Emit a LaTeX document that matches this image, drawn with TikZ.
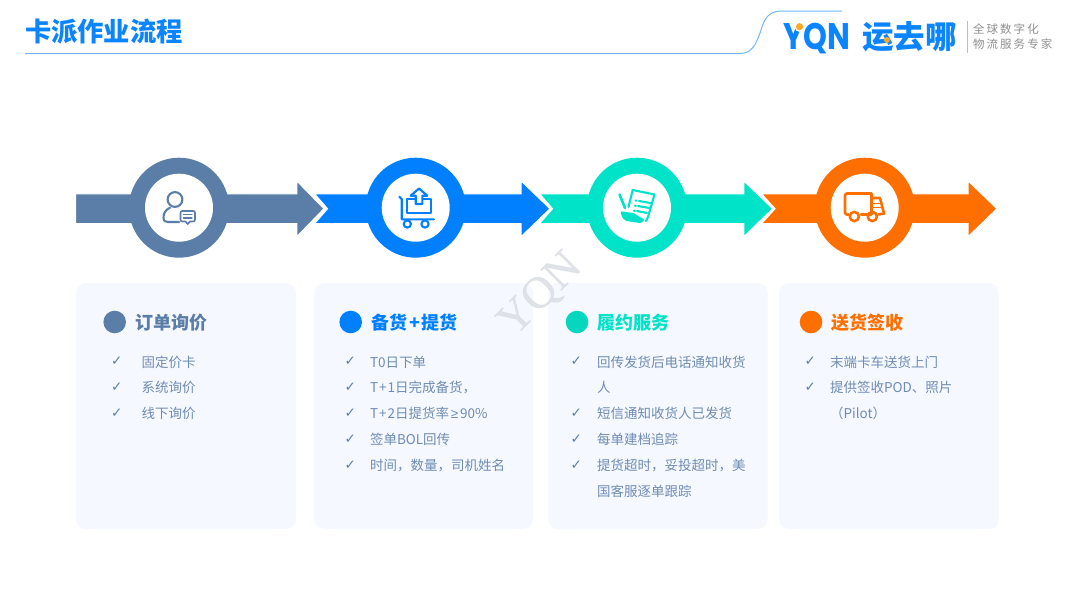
\documentclass[tikz,border=0pt]{standalone}
\usepackage{graphicx}
\usepackage{fontspec}
\setmainfont{Noto Sans CJK SC}
\newfontfamily\spacedcjk[LetterSpace=18]{Noto Sans CJK SC}
\newfontfamily\chkfont{DejaVu Sans}
\newfontfamily\gefont{Liberation Sans}
\newfontfamily\wmfont[FakeBold=0.3]{Liberation Serif}
\newfontfamily\logofont{Poppins}
\definecolor{cslate}{HTML}{5B7EA8}
\definecolor{cblue}{HTML}{0080FF}
\definecolor{cteal}{HTML}{00E3C8}
\definecolor{cteald}{HTML}{05D6BE}
\definecolor{corange}{HTML}{FF6F00}
\definecolor{ctitle}{HTML}{0A84FF}
\definecolor{cline}{HTML}{74B6FF}
\definecolor{ccard}{HTML}{F5F8FF}
\definecolor{cbody}{HTML}{6F8CB3}
\definecolor{ccheck}{HTML}{5F7FA8}
\definecolor{cgreyt}{HTML}{8F8F8F}
\definecolor{cwm}{HTML}{DADDE3}
\definecolor{cdot}{HTML}{FFA726}
\tikzset{
  txt/.style={inner sep=0pt,outer sep=0pt,anchor=base west},
  heading/.style={txt,font=\fontsize{18}{18}\selectfont\bfseries},
  body/.style={txt,text=cbody,font=\fontsize{13.5}{14}\selectfont},
  chk/.style={txt,text=ccheck,font=\fontsize{13.5}{14}\chkfont},
  card/.style={fill=ccard,rounded corners=10pt},
  band/.style={draw=white,line width=1.1pt,line join=miter,miter limit=10},
  icon/.style={line width=2.1pt,line cap=round,line join=round,fill=none},
}
% name, check x, text x, centre y, text
\newcommand{\rowitem}[5]{%
  \node[chk] (#1c) at (#2,#4+4) {✓};
  \node[body] (#1t) at (#3,#4+5.3) {#5};}
\newcommand{\rowcont}[4]{\node[body] (#1t) at (#2,#3+5.3) {#4};}
% left, notch, headstart, tip
\newcommand{\bandarrow}[5]{%
  \fill[#5,band] (#1,193.8) -- (#3,193.8) -- (#3,180.8) -- (#4,208.7) -- (#3,236.8) -- (#3,223.6) -- (#1,223.6) -- (#2,208.7) -- cycle;}
\begin{document}
\begin{tikzpicture}[x=1pt,y=-1pt]
\useasboundingbox (0,0) rectangle (1080,600);
\fill[white] (0,0) rectangle (1080,600);
% header
\node[txt,text=ctitle,font=\fontsize{26.3}{27}\selectfont\bfseries] (title) at (25,41.5) {卡派作业流程};
\draw[cline,line width=1pt] (25,53.5) -- (740,53.5) .. controls (752,53.5) and (756,44) .. (760,33) .. controls (764,20) and (767,11) .. (782,11) -- (842,11);
\node[txt,text=ctitle,font=\fontsize{37}{37}\logofont\bfseries] (yqn) at (783,49.5) {\scalebox{.82}[1]{YQN}};
\fill[white] (800,26.7) circle (5.4);
\fill[cdot] (799.5,26.7) circle (3.6);
\node[txt,text=ctitle,font=\fontsize{31.5}{32}\selectfont\bfseries] (cn) at (862,48) {运去哪};
\fill[cdot] (887,40) circle (3);
\draw[cgreyt!60,line width=.8pt] (967,21) -- (967,53);
\node[txt,text=cgreyt,font=\fontsize{11.5}{12}\spacedcjk] (sl1) at (973,33.5) {全球数字化};
\node[txt,text=cgreyt,font=\fontsize{11.5}{12}\spacedcjk] (sl2) at (973,48.5) {物流服务专家};
% band arrows
\bandarrow{75.5}{75.5}{296.7}{324}{cslate}
\bandarrow{314.5}{327.5}{521}{550}{cblue}
\bandarrow{539.5}{552.5}{743.7}{772.7}{cteal}
\bandarrow{761.5}{775}{968}{997}{corange}
% rings
\foreach \nm/\cx/\col in {a/179/cslate,b/415.7/cblue,c/637/cteal,d/864.7/corange}{
  \node[circle,fill=\col,minimum size=100pt,inner sep=0pt] (ring\nm) at (\cx,207.7) {};
  \node[circle,fill=white,minimum size=68pt,inner sep=0pt] (hole\nm) at (\cx,207.7) {};
}
% person icon
\begin{scope}[icon,draw=cslate]
  \draw (175,199.5) circle (7.4);
  \draw (170,207.6) .. controls (165,210) and (163.5,214) .. (163.5,217.5) .. controls (163.5,221) and (165,222) .. (168,222) -- (179,222);
  \draw[line width=1.6pt] (182.5,211) -- (193,211) .. controls (194.5,211) and (195,211.5) .. (195,213) -- (195,219.5) .. controls (195,221) and (194.5,221.5) .. (193,221.5) -- (190,221.5) -- (187.7,224) -- (185.5,221.5) -- (182.5,221.5) .. controls (181,221.5) and (180.5,221) .. (180.5,219.5) -- (180.5,213) .. controls (180.5,211.5) and (181,211) .. (182.5,211) -- cycle;
  \draw[line width=1.3pt] (183.5,214.5) -- (192,214.5) (183.5,218) -- (192,218);
\end{scope}
% cart icon
\begin{scope}[icon,draw=cblue]
  \draw (399.3,196.7) -- (401.7,199) -- (401.7,219.3) -- (434,219.3);
  \draw (415.5,199.3) -- (407.3,199.3) -- (407.3,213.3) -- (430.7,213.3) -- (430.7,199.3) -- (423,199.3);
  \draw (415.7,204) -- (415.7,195.7) -- (410.7,195.7) -- (419,188.5) -- (427.3,195.7) -- (422.3,195.7) -- (422.3,204) -- cycle;
  \draw (407.3,224) circle (3.6);
  \draw (425,224) circle (3.6);
\end{scope}
% document icon
\begin{scope}[icon,draw=cteal]
  \draw (632.7,190) -- (654.5,194.5) -- (648,217) -- (646,221);
  \draw (632.7,190) -- (628.5,207);
  \draw[fill=cteal] (621.8,212.5) -- (633,214) -- (643,220) -- (640,222) -- (627,220) .. controls (623,218) and (622,215) .. (621.8,212.5) -- cycle;
  \draw[line width=2.6pt] (619.5,194.5) -- (625,208);
  \draw (635.5,200.5) -- (636.5,200.7) (635,205.7) -- (636,205.9) (634,210.7) -- (635,210.9);
  \draw (639,201) -- (650.5,203) (638,206) -- (649.5,208) (637,211) -- (647,213);
\end{scope}
% truck icon
\begin{scope}[icon,draw=corange,line width=2.6pt]
  \draw (848.5,214.5) -- (846.5,214.5) .. controls (845.5,214.5) and (845,214) .. (845,213) -- (845,195) .. controls (845,194) and (845.5,193.5) .. (846.5,193.5) -- (871.5,193.5) -- (871.5,214.5) -- (861,214.5);
  \draw (871.5,198) -- (880,198) -- (884,213.5) -- (878.5,214.5);
  \draw[line width=1.8pt] (873,203.5) -- (879.5,203.5) (873,207.5) -- (881,207.5);
  \draw (854.3,216.5) circle (4.6);
  \draw (872.3,216.5) circle (4.6);
\end{scope}
% cards
\fill[card] (76,283) rectangle (296,529);
\fill[card] (314.3,283) rectangle (533,529);
\fill[card] (548,283) rectangle (767.7,529);
\fill[card] (779,283) rectangle (998.7,529);
% dots and headings
\node[circle,fill=cslate,minimum size=22.6pt,inner sep=0pt] (dota) at (114.7,322) {};
\node[circle,fill=cblue,minimum size=22.6pt,inner sep=0pt] (dotb) at (350.7,322) {};
\node[circle,fill=cteald,minimum size=22.6pt,inner sep=0pt] (dotc) at (577,322) {};
\node[circle,fill=corange,minimum size=22.6pt,inner sep=0pt] (dotd) at (811,322) {};
\node[heading,text=cslate] (heada) at (135.7,329.3) {订单询价};
\node[heading,text=cblue] (headb) at (371,329.3) {备货\hspace{2pt}+\hspace{2pt}提货};
\node[heading,text=cteal] (headc) at (597.7,329.3) {履约服务};
\node[heading,text=corange] (headd) at (831,329.3) {送货签收};
% lists
\rowitem{a1}{111}{141.5}{361.7}{固定价卡}
\rowitem{a2}{111}{141.5}{387.5}{系统询价}
\rowitem{a3}{111}{141.5}{413.5}{线下询价}
\rowitem{b1}{344.5}{370}{361.7}{T0日下单}
\rowitem{b2}{344.5}{370}{387.5}{T\hspace{1pt}+\hspace{1pt}1日完成备货，}
\rowitem{b3}{344.5}{370}{413.5}{T\hspace{1pt}+\hspace{1pt}2日提货率\makebox[11pt][c]{\gefont ≥}90\%}
\rowitem{b4}{344.5}{370}{439.5}{签单BOL回传}
\rowitem{b5}{344.5}{370}{465.5}{时间，数量，司机姓名}
\rowitem{c1}{570.5}{597}{361.7}{回传发货后电话通知收货}
\rowcont{c1b}{597}{387.5}{人}
\rowitem{c2}{570.5}{597}{413.5}{短信通知收货人已发货}
\rowitem{c3}{570.5}{597}{439.5}{每单建档追踪}
\rowitem{c4}{570.5}{597}{465.5}{提货超时，妥投超时，美}
\rowcont{c4b}{597}{491.5}{国客服逐单跟踪}
\rowitem{d1}{804.5}{830}{361.7}{末端卡车送货上门}
\rowitem{d2}{804.5}{830}{387.5}{提供签收POD、照片}
\rowcont{d2b}{830}{413.5}{（Pilot）}
% watermark
\node[text=cwm,opacity=.85,rotate=45,inner sep=0pt,font=\fontsize{45}{45}\wmfont] (wm) at (541,295) {YQN};
\end{tikzpicture}
\end{document}
